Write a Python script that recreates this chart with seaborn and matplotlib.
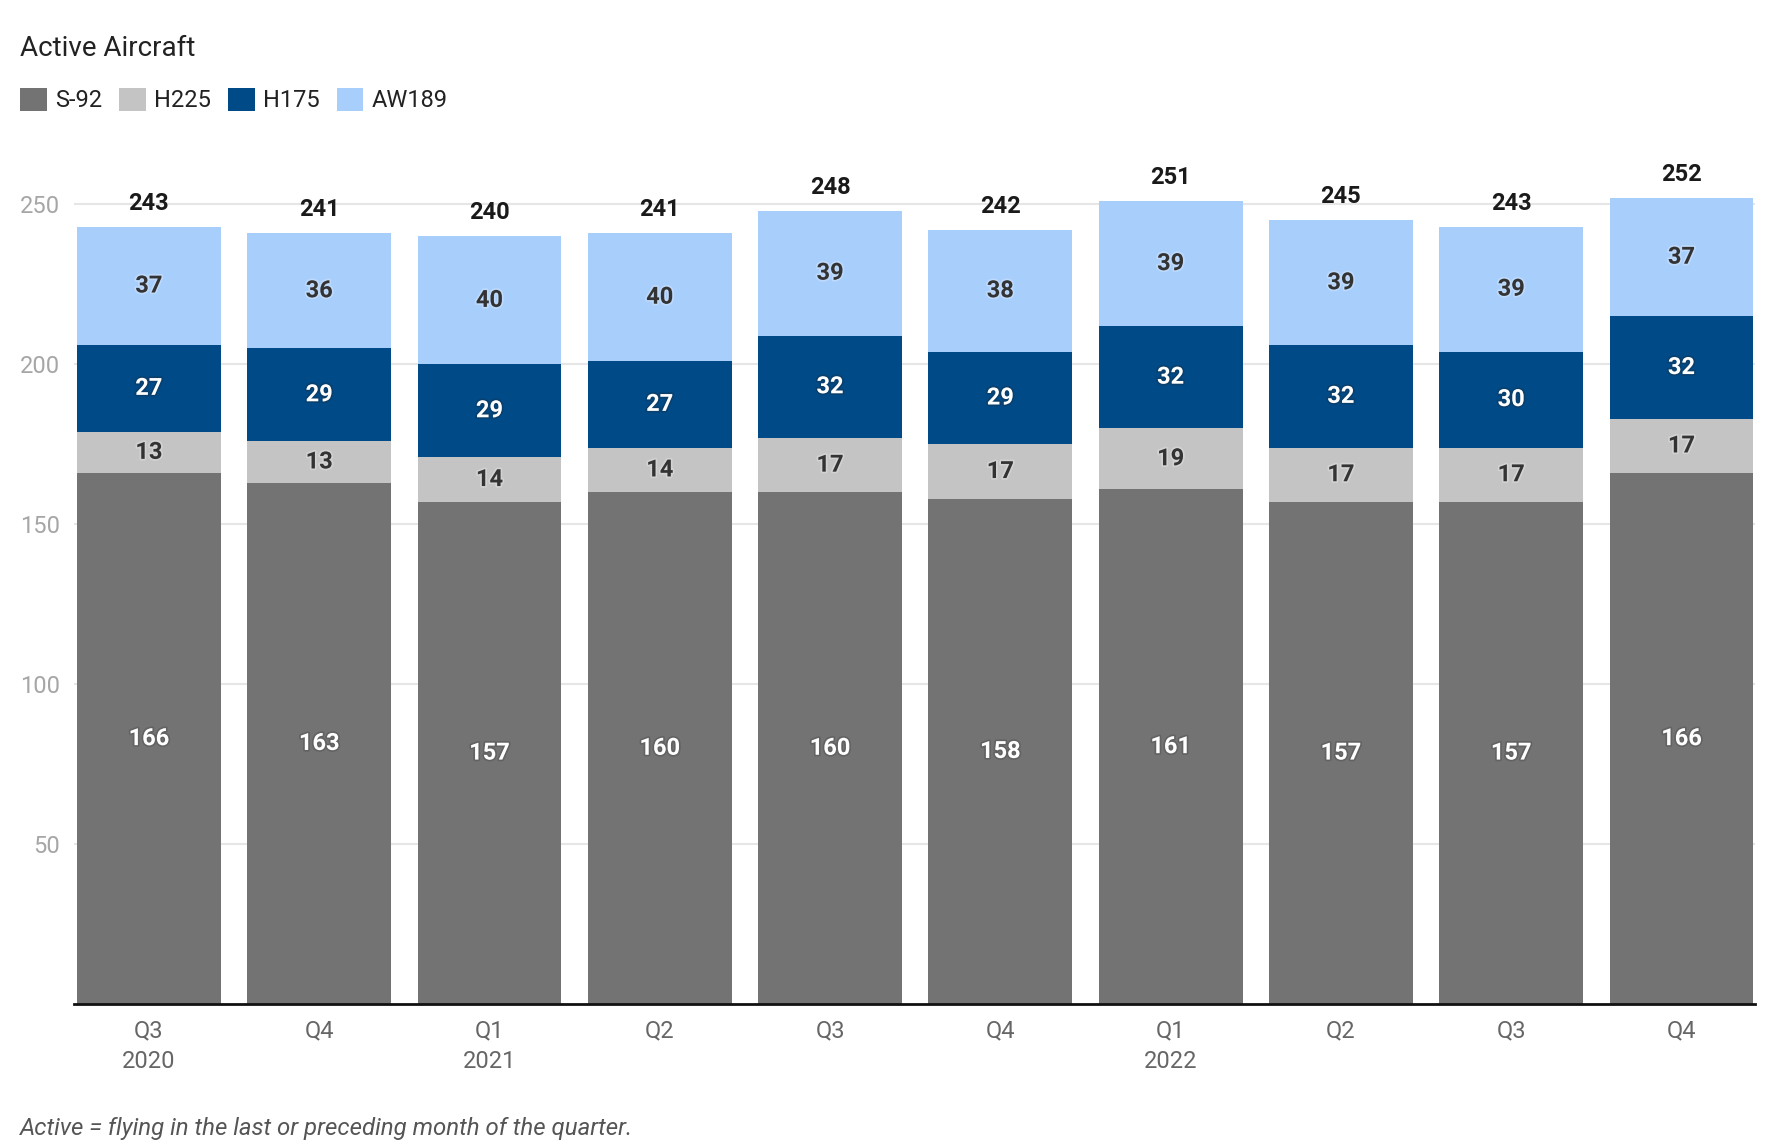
import matplotlib
matplotlib.use("Agg")
import matplotlib.pyplot as plt
import matplotlib.patheffects as pe
from matplotlib.patches import Patch
import seaborn as sns
import pandas as pd
import numpy as np

periods = ["2020 Q3", "2020 Q4", "2021 Q1", "2021 Q2", "2021 Q3",
           "2021 Q4", "2022 Q1", "2022 Q2", "2022 Q3", "2022 Q4"]
tick_labels = ["Q3\n2020", "Q4", "Q1\n2021", "Q2", "Q3", "Q4", "Q1\n2022", "Q2", "Q3", "Q4"]
series_names = ["S-92", "H225", "H175", "AW189"]
s92 = [166, 163, 157, 160, 160, 158, 161, 157, 157, 166]
h225 = [13, 13, 14, 14, 17, 17, 19, 17, 17, 17]
h175 = [27, 29, 29, 27, 32, 29, 32, 32, 30, 32]
aw189 = [37, 36, 40, 40, 39, 38, 39, 39, 39, 37]
yticks = [50, 100, 150, 200, 250]

colors = ["#737373", "#c4c4c4", "#004a87", "#a8cefc"]
label_colors = ["white", "#333333", "white", "#333333"]
shadow_colors = ["#333333", "#ffffff", "#222222", "#ffffff"]

sns.set_theme(style="white")
plt.rcParams["font.family"] = ["Roboto", "DejaVu Sans"]

fig = plt.figure(figsize=(17.78, 11.45), dpi=100)
ax = fig.add_axes([0.0416, 0.123, 0.9453, 0.732])

series = [s92, h225, h175, aw189]
bottom = np.zeros(len(periods))
for name, vals, col, lc, sc in zip(series_names, series, colors, label_colors, shadow_colors):
    df = pd.DataFrame({"period": periods, "value": vals})
    sns.barplot(data=df, x="period", y="value", order=periods, color=col,
                bottom=bottom, width=0.845, ax=ax, saturation=1, linewidth=0,
                errorbar=None)
    for i, v in enumerate(vals):
        ax.text(i, bottom[i] + v / 2, str(v), ha="center", va="center",
                fontsize=17, fontweight="bold", color=lc,
                path_effects=[pe.withStroke(linewidth=2.5, foreground=sc, alpha=0.25)])
    bottom = bottom + np.array(vals)

for i, t in enumerate(bottom):
    ax.annotate(str(int(t)), (i, t), xytext=(0, 17), textcoords="offset points",
                ha="center", va="center", fontsize=17, fontweight="bold",
                color="#1a1a1a", annotation_clip=False)

ax.set_xlim(-0.44, 9.43)
ax.set_ylim(0, 262)
ax.set_yticks(yticks)
ax.set_yticklabels([str(v) for v in yticks])
ax.set_xticks(range(len(periods)))
ax.set_xticklabels(tick_labels, linespacing=1.4)
ax.tick_params(axis="y", length=0, pad=10, labelsize=17, labelcolor="#a6a6a6")
ax.tick_params(axis="x", length=0, pad=11, labelsize=17, labelcolor="#666666")
ax.set_xlabel("")
ax.set_ylabel("")
ax.yaxis.grid(True, color="#e6e6e6", linewidth=1.5)
ax.set_axisbelow(True)
for s in ["top", "right", "left"]:
    ax.spines[s].set_visible(False)
ax.spines["bottom"].set_color("#111111")
ax.spines["bottom"].set_linewidth(2)

fig.text(20 / 1778, 1 - 48 / 1145, "Active Aircraft", fontsize=20, color="#222222",
         ha="left", va="center")

handles = [Patch(facecolor=c, edgecolor="none") for c in colors]
fig.legend(handles, series_names, loc="center left",
           bbox_to_anchor=(20 / 1778, 1 - 100 / 1145), ncol=4, frameon=False,
           fontsize=17, handlelength=1.13, handleheight=1.13, handletextpad=0.35,
           columnspacing=0.72, borderpad=0, borderaxespad=0, labelcolor="#222222")

fig.text(20 / 1778, 1 - 1129 / 1145, "Active = flying in the last or preceding month of the quarter.",
         fontsize=17.3, style="italic", color="#555555", ha="left", va="center")

fig.savefig("out.png", dpi=100)
